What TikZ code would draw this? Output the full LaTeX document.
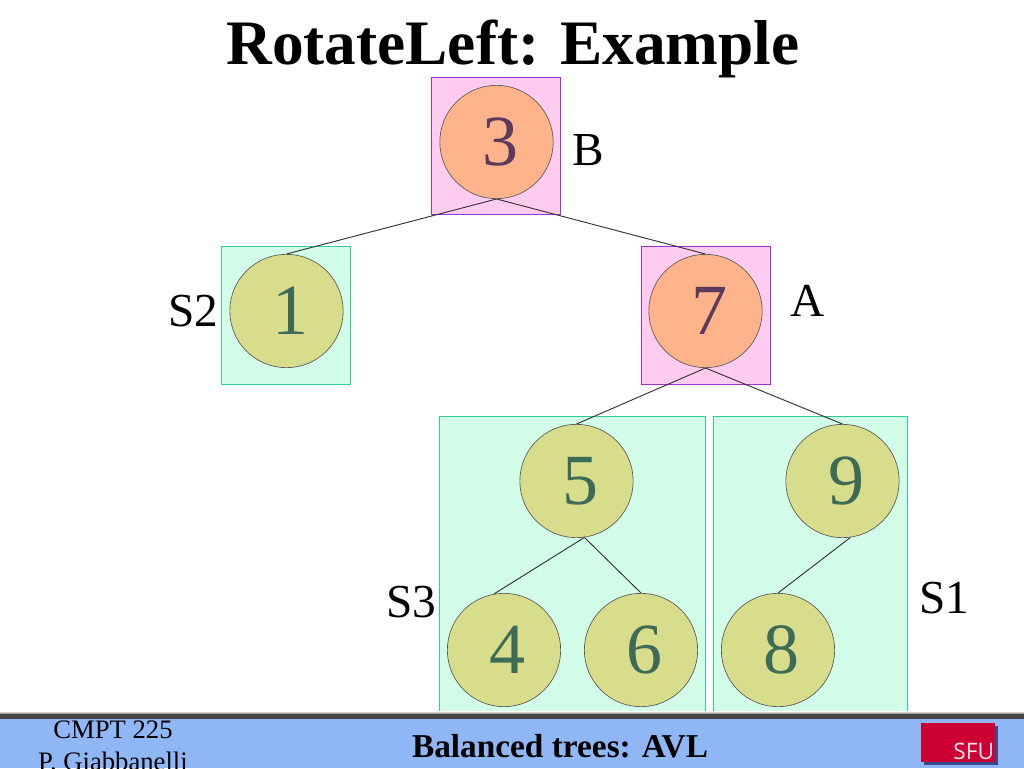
\documentclass[tikz,border=0pt]{standalone}
\usepackage{fontspec}
\setmainfont{Liberation Serif}
\setsansfont{Open Sans}
\usepackage{xcolor}
\usetikzlibrary{arrows.meta,positioning,calc,fit,shadows}
\definecolor{pinkfill}{HTML}{FFCCF0}
\definecolor{pinkline}{HTML}{9933CC}
\definecolor{mintfill}{HTML}{D2FDE8}
\definecolor{mintline}{HTML}{33CC99}
\definecolor{orangefill}{HTML}{FFB38A}
\definecolor{olivefill}{HTML}{D8DD8C}
\definecolor{plumtext}{HTML}{5A3A5E}
\definecolor{greentext}{HTML}{3E6B58}
\definecolor{bandblue}{HTML}{8FB6F5}
\definecolor{sfured}{HTML}{CC0033}
\begin{document}
\begin{tikzpicture}[
			x=0.75pt, y=-0.75pt,
			pinksq/.style={
				draw=pinkline, fill=pinkfill, line width=0.7pt,
				minimum width=97pt, minimum height=103pt, inner sep=0pt
			},
			mintsq/.style={
				draw=mintline, fill=mintfill, line width=0.7pt, inner sep=0pt
			},
			treenode/.style={
				circle, draw=black!65, line width=0.5pt, minimum size=85pt,
				inner sep=0pt, font=\fontsize{54}{54}\selectfont
			},
			rednode/.style={treenode, fill=orangefill, text=plumtext},
			yellownode/.style={treenode, fill=olivefill, text=greentext},
			edge/.style={line width=0.7pt, black!80},
			sidelabel/.style={font=\fontsize{35.5}{36}\selectfont, inner sep=0pt}
			]
			\useasboundingbox (0,0) rectangle (1024,768);
			
			%% -- Title
			\node[font=\bfseries\fontsize{47.5}{48}\selectfont, inner sep=0pt] (title)
			at (513,49) {RotateLeft: Example};
			
			%% -- Boxes behind the tree
			\node[pinksq] (boxb) at (496,146) {};
			\node[pinksq] (boxa) at (706,315.5) {};
			\node[mintsq, minimum width=97pt, minimum height=103pt] (boxs2) at (286,315.5) {};
			\node[mintsq, minimum width=200pt, minimum height=235pt] (boxs3) at (572.5,573) {};
			\node[mintsq, minimum width=146pt, minimum height=235pt] (boxs1) at (810.5,573) {};
			
			%% -- Tree nodes
			\node[rednode] (n3) at (496.5,142) {\hspace{5.5pt}\raisebox{-1pt}{3}};
			\node[yellownode] (n1) at (286.5,311) {\hspace{5.5pt}\raisebox{-1pt}{1}};
			\node[rednode] (n7) at (705.5,311) {\hspace{5.5pt}\raisebox{-1pt}{7}};
			\node[yellownode] (n5) at (576.5,481) {\hspace{5.5pt}\raisebox{-1pt}{5}};
			\node[yellownode] (n9) at (842.5,481) {\hspace{5.5pt}\raisebox{-1pt}{9}};
			\node[yellownode] (n4) at (504,650) {\hspace{5.5pt}\raisebox{-1pt}{4}};
			\node[yellownode] (n6) at (641,650) {\hspace{5.5pt}\raisebox{-1pt}{6}};
			\node[yellownode] (n8) at (778,650) {\hspace{5.5pt}\raisebox{-1pt}{8}};
			
			%% -- Edges
			\draw[edge] (n3.south) -- (n1.north);
			\draw[edge] (n3.south) -- (n7.north);
			\draw[edge] (n7.south) -- (n5.north);
			\draw[edge] (n7.south) -- (n9.north);
			\draw[edge] (n5.-82) -- (n4.100);
			\draw[edge] (n5.-82) -- (n6.north);
			\draw[edge] (n9.-82) -- (n8.north);
			
			%% -- Side labels
			\node[sidelabel, right=8pt of boxb, yshift=-3pt] (labb) {B};
			\node[sidelabel, left=8pt of n1, yshift=0pt] (labs2) {S2};
			\node[sidelabel, right=14pt of boxa, yshift=11pt] (laba) {A};
			\node[sidelabel, left=8pt of n4, yshift=36pt] (labs3) {S3};
			\node[sidelabel, right=8pt of boxs1, yshift=-19pt] (labs1) {S1};
			
			%% -- Footer band
			\shade[top color=white, bottom color=black!75] (0,711) rectangle (1024,715);
			\fill[black!72] (0,714) rectangle (1024,719);
			\fill[bandblue] (0,719) rectangle (1024,768);
			\node[font=\fontsize{20}{24}\selectfont, align=center, inner sep=0pt, anchor=north] (course)
			at (113,721) {CMPT 225\\P. Giabbanelli};
			\node[font=\bfseries\fontsize{25}{25}\selectfont, inner sep=0pt] (footer)
			at (560,746) {Balanced trees: AVL};
			
			%% -- SFU badge
			\node[fill=sfured, minimum width=55.5pt, minimum height=29.5pt, inner sep=0pt,
			drop shadow={shadow xshift=2pt, shadow yshift=-2pt, fill=black!70!blue, opacity=0.6}] (logo)
			at (958,742.5) {};
			\node[text=white!90!sfured, font=\sffamily\fontsize{17}{17}\selectfont, inner sep=0pt,
			anchor=south east] (logotext) at ($(logo.south east)+(-1,-2)$) {SFU};
			
		\end{tikzpicture}
\end{document}
